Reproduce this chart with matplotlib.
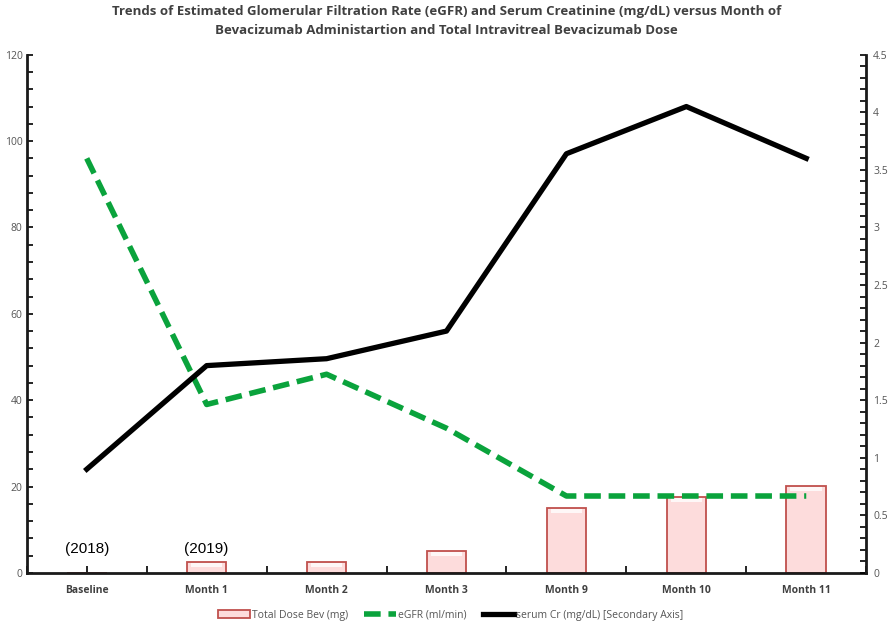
import numpy as np
import matplotlib.pyplot as plt
from matplotlib.patches import Patch
from matplotlib.lines import Line2D

categories = ["Baseline", "Month 1", "Month 2", "Month 3", "Month 9", "Month 10", "Month 11"]
dose_bev = [0, 2.6, 2.6, 5.1, 15.1, 17.6, 20.2]
egfr = [96, 39, 46, 33.5, 17.8, 17.8, 17.8]
serum_cr = [0.90, 1.80, 1.86, 2.10, 3.64, 4.05, 3.60]
year_notes = {0: "(2018)", 1: "(2019)"}

title = ("Trends of Estimated Glomerular Filtration Rate (eGFR) and Serum Creatinine (mg/dL) versus Month of\n"
         "Bevacizumab Administartion and Total Intravitreal Bevacizumab Dose")

plt.rcParams['font.family'] = ['Open Sans', 'DejaVu Sans']

fig = plt.figure(figsize=(8.93, 6.22), dpi=100)
ax = fig.add_axes([0.030, 0.079, 0.940, 0.833])
ax2 = ax.twinx()

x = np.arange(len(categories))
bar_w = 0.33

# bars (left axis), with a soft highlight strip to mimic the shaded look
ax.bar(x, dose_bev, width=bar_w, facecolor='#fddcdc', edgecolor='#c0504d',
       linewidth=1.3, zorder=2)
hl = [min(v, 0.9) for v in dose_bev]
ax.bar(x, hl, bottom=[v - h - 0.35 if v > 0 else 0 for v, h in zip(dose_bev, hl)],
       width=bar_w * 0.8, facecolor='white', edgecolor='none', alpha=0.8, zorder=2.1)
# eGFR dashed green (left axis)
ax.plot(x, egfr, color='#0aa33c', linewidth=4, dashes=(3, 1.4), zorder=3)
# serum creatinine (secondary axis)
ax2.plot(x, serum_cr, color='black', linewidth=3.8, zorder=3)

for i, txt in year_notes.items():
    ax.text(x[i], 4.0, txt, ha='center', va='bottom', fontsize=11,
            family=['Liberation Sans', 'DejaVu Sans'], color='black')

ax.set_xlim(-0.5, len(categories) - 0.5)
ax.set_ylim(0, 120)
ax2.set_ylim(0, 4.5)

ax.set_yticks(np.arange(0, 121, 20))
ax.set_yticks(np.arange(0, 121, 4), minor=True)
ax2.set_yticks(np.arange(0, 4.51, 0.5))
ax2.set_yticks(np.arange(0, 4.51, 0.1), minor=True)
ax2.set_yticklabels([f"{v:g}" for v in np.arange(0, 4.51, 0.5)])

ax.set_xticks(x)
ax.set_xticklabels(categories, fontsize=7.5, fontweight='bold', color='#404040')
ax.set_xticks(np.arange(-0.5, len(categories)), minor=True)

for a in (ax, ax2):
    for s in a.spines.values():
        s.set_visible(False)
ax.spines['left'].set_visible(True)
ax.spines['bottom'].set_visible(True)
ax2.spines['right'].set_visible(True)
for s in (ax.spines['left'], ax.spines['bottom'], ax2.spines['right']):
    s.set_linewidth(2)
    s.set_color('#1a1a1a')

ax.tick_params(axis='y', which='both', direction='in', labelsize=7.5, labelcolor='#555555',
               length=4, width=1.2, pad=3)
ax.tick_params(axis='x', which='both', direction='in', length=5, width=1.2, pad=9)
ax2.tick_params(axis='y', which='both', direction='in', labelsize=7.5, labelcolor='#555555',
                length=4, width=1.2, pad=5)

fig.text(0.5, 0.992, title, ha='center', va='top', fontsize=9.5, fontweight='bold',
         color='#404040', linespacing=1.6)

handles = [Patch(facecolor='#fddcdc', edgecolor='#c0504d', linewidth=1.3),
           Line2D([], [], color='#0aa33c', linewidth=4, dashes=(3, 1.4)),
           Line2D([], [], color='black', linewidth=3.8)]
labels = ["Total Dose Bev (mg)", "eGFR (ml/min)", "serum Cr (mg/dL) [Secondary Axis]"]
fig.legend(handles, labels, loc='lower center', bbox_to_anchor=(0.505, -0.013), ncol=3,
           frameon=False, fontsize=7.5, labelcolor='#555555', handlelength=3.0,
           handletextpad=0.2, columnspacing=1.6)

fig.savefig('out.png', dpi=100)
